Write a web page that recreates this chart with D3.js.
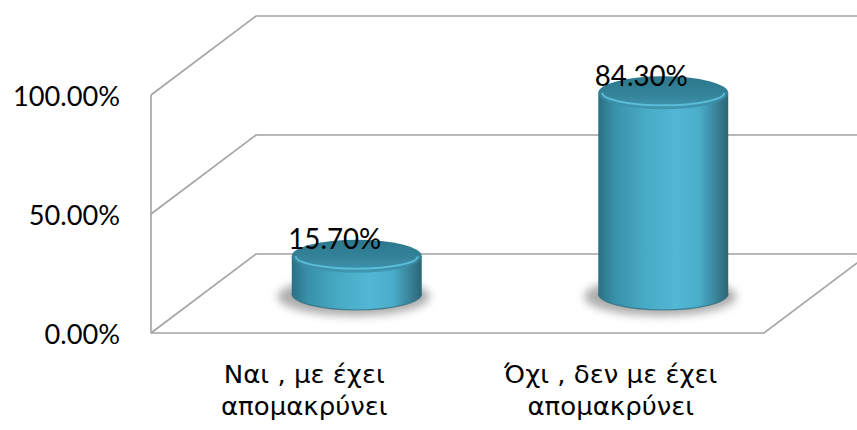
<!DOCTYPE html>
<html>
<head>
<meta charset="utf-8">
<script src="https://cdn.jsdelivr.net/npm/d3@7"></script>
<style>
  html, body { margin: 0; padding: 0; background: #ffffff; }
  svg { display: block; }
</style>
</head>
<body>
<svg id="chart" width="857" height="430"></svg>
<script>
// Survey answers and their shares
const categories = ["Ναι , με έχει απομακρύνει", "Όχι , δεν με έχει απομακρύνει"];
const categoryLines = [["Ναι , με έχει", "απομακρύνει"], ["Όχι , δεν με έχει", "απομακρύνει"]];
const shares = [0.157, 0.843];
const tickValues = [0, 0.5, 1];

const W = 857, H = 430;
// front edge of the floor and left wall, plus the 3D depth offset
const frontLeft = 151, frontRight = 764, floorY = 333, wallTop = 95;
const depth = { dx: 105, dy: -79 };

const svg = d3.select("#chart");
const y = d3.scaleLinear().domain([0, 1]).range([floorY, wallTop]);
const x = d3.scaleBand().domain(categories).range([frontLeft, frontRight]);
const pct = d3.format(".2%");

const defs = svg.append("defs");
const side = defs.append("linearGradient").attr("id", "cylSide")
  .attr("x1", "0").attr("x2", "1").attr("y1", "0").attr("y2", "0");
[["0%", "#2a7085"], ["12%", "#3890a8"], ["35%", "#47a9c4"], ["60%", "#52b7d5"],
 ["78%", "#4aacc9"], ["92%", "#387f94"], ["100%", "#2b6576"]]
  .forEach(([o, c]) => side.append("stop").attr("offset", o).attr("stop-color", c));

const topG = defs.append("linearGradient").attr("id", "cylTop")
  .attr("x1", "0").attr("x2", "0").attr("y1", "0").attr("y2", "1");
[["0%", "#2c778c"], ["55%", "#34839a"], ["100%", "#3f97b0"]]
  .forEach(([o, c]) => topG.append("stop").attr("offset", o).attr("stop-color", c));

defs.append("filter").attr("id", "soft").attr("x", "-30%").attr("y", "-60%")
  .attr("width", "160%").attr("height", "220%")
  .append("feGaussianBlur").attr("stdDeviation", 4);

// walls and floor
const grid = svg.append("g").attr("fill", "none").attr("stroke", "#a3a3a3").attr("stroke-width", 1.6);
grid.selectAll("path.tick").data(tickValues).join("path").attr("class", "tick")
  .attr("d", t => `M${frontLeft},${y(t)} L${frontLeft + depth.dx},${y(t) + depth.dy} L${W + 20},${y(t) + depth.dy}`);
grid.append("path")
  .attr("d", `M${frontLeft},${y(0)} L${frontRight},${y(0)} L${frontRight + depth.dx},${y(0) + depth.dy}`);
grid.append("path")
  .attr("d", `M${frontLeft},${y(0)} L${frontLeft},${y(1)}`);

// y axis labels
const yLabels = svg.append("g")
  .attr("font-family", "Lato, 'Open Sans', sans-serif").attr("font-size", 27).attr("fill", "#000")
  .selectAll("text").data(tickValues).join("text")
  .attr("x", 120).attr("y", t => y(t) + 11).attr("text-anchor", "end")
  .text(t => pct(t));

// cylinders
const rx = x.bandwidth() * 0.212, ry = 16.5;
const baseY = y(0) + depth.dy / 2;
const bars = categories.map((c, i) => ({
  c, v: shares[i],
  cx: x(c) + x.bandwidth() / 2 + depth.dx / 2,
  top: y(shares[i]) + depth.dy / 2
}));

const g = svg.append("g");
g.selectAll("ellipse.shadow").data(bars).join("ellipse").attr("class", "shadow")
  .attr("cx", d => d.cx - 3).attr("cy", baseY + 3)
  .attr("rx", rx + 11).attr("ry", ry + 3)
  .attr("fill", "#6a6a6a").attr("opacity", 0.55).attr("filter", "url(#soft)");

g.selectAll("path.body").data(bars).join("path").attr("class", "body")
  .attr("d", d => `M${d.cx - rx},${d.top} L${d.cx - rx},${baseY} A${rx},${ry} 0 0 0 ${d.cx + rx},${baseY} L${d.cx + rx},${d.top} Z`)
  .attr("fill", "url(#cylSide)");

g.selectAll("path.base").data(bars).join("path").attr("class", "base")
  .attr("d", d => `M${d.cx - rx},${baseY} A${rx},${ry} 0 0 0 ${d.cx + rx},${baseY}`)
  .attr("fill", "none").attr("stroke", "#2a6a7c").attr("stroke-width", 1.2).attr("opacity", 0.7);

g.selectAll("ellipse.top").data(bars).join("ellipse").attr("class", "top")
  .attr("cx", d => d.cx).attr("cy", d => d.top).attr("rx", rx).attr("ry", ry)
  .attr("fill", "url(#cylTop)");

g.selectAll("path.rim").data(bars).join("path").attr("class", "rim")
  .attr("d", d => `M${d.cx - rx + 4},${d.top} A${rx - 4},${ry - 4} 0 0 0 ${d.cx + rx - 4},${d.top}`)
  .attr("fill", "none").attr("stroke", "#62c4e0").attr("stroke-width", 2).attr("opacity", 0.85);

// value labels
const vLabels = svg.append("g")
  .attr("font-family", "Lato, 'Open Sans', sans-serif").attr("font-size", 28).attr("fill", "#000")
  .selectAll("text").data(bars).join("text")
  .attr("x", d => d.cx - 22).attr("y", d => d.top - 7).attr("text-anchor", "middle")
  .text(d => pct(d.v));

// category labels
const cLabels = svg.append("g")
  .attr("font-family", "'DejaVu Sans', sans-serif").attr("font-size", 25).attr("fill", "#000")
  .selectAll("text").data(categories).join("text")
  .attr("x", c => x(c) + x.bandwidth() / 2).attr("y", 383).attr("text-anchor", "middle");
cLabels.selectAll("tspan").data((c, i) => categoryLines[i]).join("tspan")
  .attr("x", function () { return d3.select(this.parentNode).attr("x"); })
  .attr("dy", (d, j) => j === 0 ? 0 : 32)
  .text(d => d);

// stretch each label group to its set width
function fit(sel, first, target) {
  const k = target / first.getComputedTextLength();
  sel.each(function () {
    const w = this.getComputedTextLength();
    d3.select(this).attr("textLength", w * k).attr("lengthAdjust", "spacingAndGlyphs");
  });
}
fit(yLabels, yLabels.nodes()[2], 107);
fit(vLabels, vLabels.nodes()[0], 93);
const tspans = cLabels.selectAll("tspan");
fit(tspans, tspans.nodes()[0], 161);
</script>
</body>
</html>
